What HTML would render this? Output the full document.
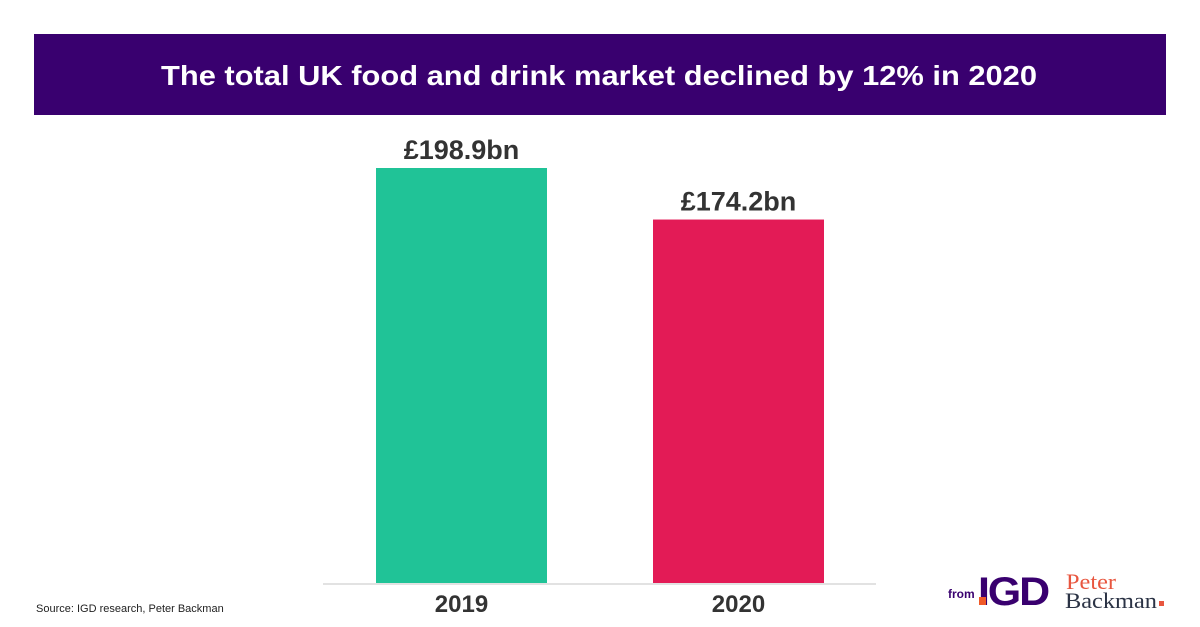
<!DOCTYPE html>
<html><head><meta charset="utf-8"><style>
body{margin:0;width:1200px;height:627px;background:#fff;overflow:hidden;font-family:"Liberation Sans",sans-serif}
svg{display:block}
</style></head><body>
<svg width="1200" height="627">
<rect x="34" y="34" width="1132" height="81" fill="#39006f"/>
<text x="599" y="85" text-anchor="middle" fill="#fff" font-size="28" font-weight="bold" textLength="876" lengthAdjust="spacingAndGlyphs">The total UK food and drink market declined by 12% in 2020</text>
<line x1="323" y1="584" x2="876" y2="584" stroke="#d9d9d9" stroke-width="1.5"/>
<g id="bars"></g>
<text x="36" y="612" font-size="11" fill="#222">Source: IGD research, Peter Backman</text>
<g>
<text x="948" y="598" font-size="12" font-weight="bold" fill="#39006f">from</text>
<text x="978" y="605" font-size="40" font-weight="bold" fill="#39006f" letter-spacing="-2" textLength="70" lengthAdjust="spacingAndGlyphs">IGD</text>
<rect x="979" y="597" width="7" height="8" fill="#f05a28"/>
</g>
<g>
<text x="1066" y="589" font-family="Liberation Serif,serif" font-size="22" fill="#e8563f" textLength="50" lengthAdjust="spacingAndGlyphs">Peter</text>
<text x="1065" y="608" font-family="Liberation Serif,serif" font-size="22" fill="#2b3345" textLength="92" lengthAdjust="spacingAndGlyphs">Backman</text>
<rect x="1159" y="601" width="5" height="5" fill="#e8563f"/>
</g>
</svg>
<script>
const categories=["2019","2020"];
const values=[198.9,174.2];
const labels=["£198.9bn","£174.2bn"];
const colors=["#20c397","#e31b56"];
const base=583, scale=415/198.9;
const y=v=>base-v*scale;
const xs=[376,653], bw=171;
const g=document.getElementById('bars');
const NS="http://www.w3.org/2000/svg";
categories.forEach((c,i)=>{
  const r=document.createElementNS(NS,'rect');
  
  
  r.setAttribute('x',xs[i]);r.setAttribute('y',y(values[i]));
  r.setAttribute('width',bw);r.setAttribute('height',base-y(values[i]));
  r.setAttribute('fill',colors[i]);g.appendChild(r);
  const t=document.createElementNS(NS,'text');
  
  
  t.setAttribute('x',xs[i]+bw/2);t.setAttribute('y',y(values[i])-9);
  t.setAttribute('text-anchor','middle');t.setAttribute('font-size','27');
  t.setAttribute('font-weight','bold');t.setAttribute('fill','#333');
  t.textContent=labels[i];g.appendChild(t);
  const a=document.createElementNS(NS,'text');
  
  
  a.setAttribute('x',xs[i]+bw/2);a.setAttribute('y',612);
  a.setAttribute('text-anchor','middle');a.setAttribute('font-size','24');
  a.setAttribute('font-weight','bold');a.setAttribute('fill','#333');
  a.textContent=c;g.appendChild(a);
});
</script>
</body></html>
